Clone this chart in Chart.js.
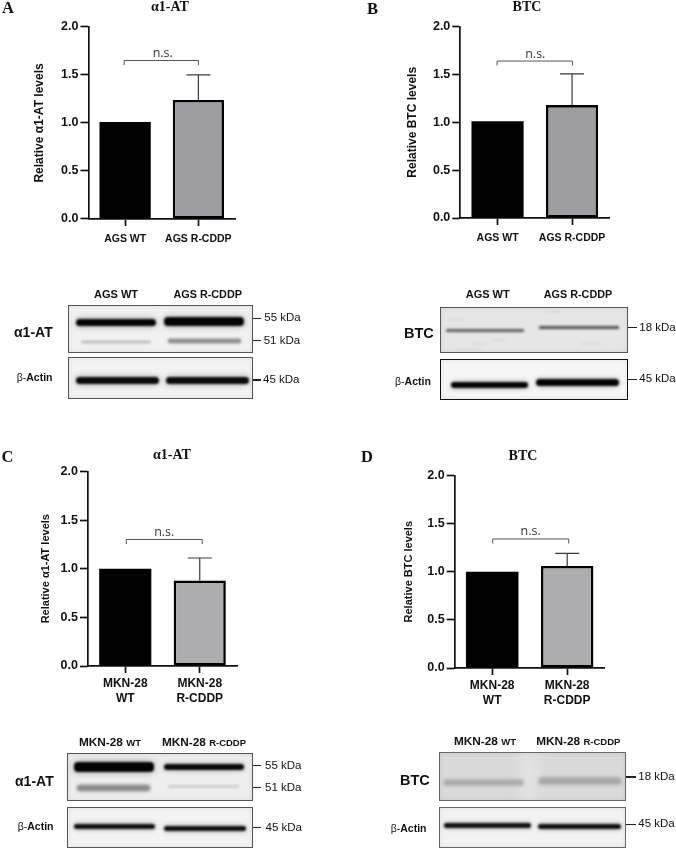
<!DOCTYPE html>
<html>
<head>
<meta charset="utf-8">
<title>α1-AT and BTC levels</title>
<script src="https://cdn.jsdelivr.net/npm/chart.js@4"></script>
<style>
  html, body { margin: 0; padding: 0; background: #fff; width: 676px; height: 849px; overflow: hidden; }
  #page { position: relative; width: 676px; height: 849px; }
  canvas { position: absolute; filter: blur(0.35px); }
  .txt { position: absolute; white-space: nowrap; line-height: 1; color: #111; transform: translateY(-50%); font-family: "Liberation Sans", sans-serif; filter: blur(0.25px); }
  .frame { position: absolute; box-sizing: border-box; overflow: hidden; box-shadow: inset 0 0 5px rgba(0,0,0,0.08); }
  .band { position: absolute; border-radius: 4px; }
  .mark { position: absolute; height: 1.4px; background: #222; }
</style>
</head>
<body>
<div id="page"></div>
<script>
// chart values
const catsAgs = ['AGS WT', 'AGS R-CDDP'];
const catsMkn = [['MKN-28', 'WT'], ['MKN-28', 'R-CDDP']];
const yTicks = [0, 0.5, 1, 1.5, 2];

const valuesA = [1.01, 1.24];
const errTopA = [null, 1.5];
const valuesB = [1.01, 1.18];
const errTopB = [null, 1.505];
const valuesC = [1.0, 0.88];
const errTopC = [null, 1.11];
const valuesD = [1.0, 1.06];
const errTopD = [null, 1.19];

// height of the n.s. brackets
const bracketA = 1.65;
const bracketB = 1.64;
const bracketC = 1.30;
const bracketD = 1.34;

const page = document.getElementById('page');

// error bars and brackets go through the chart scales
const extrasPlugin = {
  id: 'extras',
  afterLayout(chart, args, o) {
    // the right padding would pull the title off centre
    chart.titleBlock.left = o.titleCenter - 40;
    chart.titleBlock.right = o.titleCenter + 40;
  },
  afterDatasetsDraw(chart, args, o) {
    const { ctx } = chart;
    const x = chart.scales.x, y = chart.scales.y;
    ctx.save();
    o.errTop.forEach((top, i) => {
      if (top == null) return;
      const px = x.getPixelForValue(i);
      const y1 = y.getPixelForValue(chart.data.datasets[0].data[i]);
      const y2 = y.getPixelForValue(top);
      ctx.strokeStyle = '#3a3a3a';
      ctx.lineWidth = 1.2;
      ctx.beginPath();
      ctx.moveTo(px, y1);
      ctx.lineTo(px, y2);
      ctx.moveTo(px - 12, y2);
      ctx.lineTo(px + 12, y2);
      ctx.stroke();
    });
    const bx1 = x.getPixelForValue(0) + o.bracketShift[0];
    const bx2 = x.getPixelForValue(1) + o.bracketShift[1];
    const by = y.getPixelForValue(o.bracket);
    ctx.strokeStyle = '#555';
    ctx.lineWidth = 1;
    ctx.beginPath();
    ctx.moveTo(bx1, by + 4.5);
    ctx.lineTo(bx1, by);
    ctx.lineTo(bx2, by);
    ctx.lineTo(bx2, by + 4.5);
    ctx.stroke();
    ctx.fillStyle = '#333';
    ctx.font = '12.5px "Open Sans"';
    ctx.textAlign = 'center';
    ctx.textBaseline = 'alphabetic';
    ctx.fillText('n.s.', (bx1 + bx2) / 2 + o.nsShift, by - 3.5);
    ctx.restore();
  }
};

function makePanel(p) {
  const cv = document.createElement('canvas');
  const cTop = p.titleY - 8.4;
  const cLeft = p.titleX - p.cw / 2;
  const h = p.y0 - cTop + 44;
  cv.width = p.cw;
  cv.height = Math.round(h);
  cv.style.left = cLeft + 'px';
  cv.style.top = cTop + 'px';
  page.appendChild(cv);

  new Chart(cv.getContext('2d'), {
    type: 'bar',
    plugins: [extrasPlugin],
    data: {
      labels: p.labels,
      datasets: [{
        data: p.values,
        backgroundColor: ['#000000', p.gray],
        borderColor: '#000000',
        borderWidth: [0, 2.6],
        borderSkipped: false,
        barPercentage: 0.7,
        categoryPercentage: 1
      }]
    },
    options: {
      responsive: false,
      animation: false,
      devicePixelRatio: 1,
      layout: { padding: { top: 0, left: 0, bottom: 0, right: cLeft + p.cw - p.right } },
      plugins: {
        legend: { display: false },
        tooltip: { enabled: false },
        title: {
          display: true,
          text: p.title,
          color: '#111',
          font: { family: '"Liberation Serif"', size: 14, weight: 'bold', lineHeight: 1.2 },
          padding: { top: 0, bottom: p.yTop - cTop - 16.8 }
        },
        extras: { titleCenter: p.cw / 2, errTop: p.errTop, bracket: p.bracket, bracketShift: p.bracketShift, nsShift: p.nsShift }
      },
      scales: {
        x: {
          grid: { display: true, offset: false, drawOnChartArea: false, drawTicks: true, tickLength: 7, tickColor: '#111', tickWidth: 1.7 },
          border: { color: '#111', width: 1.7 },
          ticks: {
            color: '#111',
            autoSkip: false,
            maxRotation: 0,
            padding: p.xPad,
            font: { family: '"Liberation Sans"', size: p.xSize, weight: 'bold', lineHeight: 1.3 }
          },
          afterFit(s) { s.height = h - (p.y0 - cTop); }
        },
        y: {
          min: 0,
          max: 2,
          afterBuildTicks(s) { s.ticks = yTicks.map(v => ({ value: v })); },
          grid: { display: true, drawOnChartArea: false, drawTicks: true, tickLength: 8, tickColor: '#111', tickWidth: 1.7 },
          border: { color: '#111', width: 1.7 },
          title: {
            display: true,
            text: p.yLabel,
            color: '#111',
            font: { family: '"Liberation Sans"', size: p.ySize, weight: 'bold', lineHeight: 1.2 },
            padding: { top: p.yLabelX - cLeft - p.ySize * 0.6, bottom: 0 }
          },
          ticks: {
            color: '#111',
            padding: 2,
            font: { family: '"Liberation Sans"', size: 12.5, weight: 'bold' },
            callback: v => v.toFixed(1)
          },
          afterFit(s) { s.width = p.axisX - cLeft; }
        }
      }
    }
  });
}

makePanel({ title: 'α1-AT', titleX: 170, titleY: 7.5, cw: 320, axisX: 88.5, yTop: 27, y0: 218.7, right: 235,
  labels: catsAgs, values: valuesA, errTop: errTopA, bracket: bracketA, bracketShift: [-1, 0], nsShift: 1.5,
  gray: '#9e9ea2', yLabel: 'Relative α1-AT levels', ySize: 12, yLabelX: 40, xSize: 10.5, xPad: 6 });
makePanel({ title: 'BTC', titleX: 526.7, titleY: 7.5, cw: 290, axisX: 460, yTop: 26.7, y0: 218, right: 609,
  labels: catsAgs, values: valuesB, errTop: errTopB, bracket: bracketB, bracketShift: [-0.5, 0.5], nsShift: 0.5,
  gray: '#9e9ea2', yLabel: 'Relative BTC levels', ySize: 12, yLabelX: 412, xSize: 10.5, xPad: 6 });
makePanel({ title: 'α1-AT', titleX: 171.7, titleY: 455.7, cw: 320, axisX: 87.7, yTop: 471.7, y0: 666.7, right: 236.7,
  labels: catsMkn, values: valuesC, errTop: errTopC, bracket: bracketC, bracketShift: [1, 2.5], nsShift: 0,
  gray: '#adadaf', yLabel: 'Relative α1-AT levels', ySize: 11, yLabelX: 46, xSize: 12, xPad: 2.5 });
makePanel({ title: 'BTC', titleX: 523.3, titleY: 456, cw: 290, axisX: 455, yTop: 475, y0: 667.3, right: 605,
  labels: catsMkn, values: valuesD, errTop: errTopD, bracket: bracketD, bracketShift: [0.5, 1.5], nsShift: 0,
  gray: '#adadaf', yLabel: 'Relative BTC levels', ySize: 11, yLabelX: 409, xSize: 12, xPad: 2.5 });

// plain page text
function text(str, x, y, size, opt = {}) {
  const d = document.createElement('div');
  d.className = 'txt';
  d.innerHTML = str;
  d.style.top = y + 'px';
  d.style.fontSize = size + 'px';
  if (opt.center) { d.style.left = x + 'px'; d.style.transform = 'translate(-50%,-50%)'; }
  else d.style.left = x + 'px';
  if (opt.bold) d.style.fontWeight = 'bold';
  if (opt.serif) d.style.fontFamily = '"Liberation Serif", serif';
  page.appendChild(d);
}

// panel letters
[['A', 2, 8], ['B', 367, 9], ['C', 1.5, 457], ['D', 361, 457]].forEach(l => {
  text(l[0], l[1], l[2], 16.5, { bold: true, serif: true });
});

// western blot strip: bands are [x1, x2, y, thickness, colour, blur, halo]
function blot(x1, y1, x2, y2, bg, border, bands) {
  const f = document.createElement('div');
  f.className = 'frame';
  f.style.cssText = `left:${x1}px;top:${y1}px;width:${x2 - x1}px;height:${y2 - y1}px;background:${bg};border:${border}`;
  bands.forEach(b => {
    const d = document.createElement('div');
    d.className = 'band';
    const halo = b[6] ? `box-shadow:0 0 ${b[6]}px rgba(0,0,0,0.4);` : '';
    d.style.cssText = `left:${b[0] - x1}px;top:${b[2] - y1 - b[3] / 2}px;width:${b[1] - b[0]}px;height:${b[3]}px;background:${b[4]};filter:blur(${b[5]}px);${halo}`;
    f.appendChild(d);
  });
  page.appendChild(f);
}

function kda(label, x1, x2, y, textX) {
  const m = document.createElement('div');
  m.className = 'mark';
  m.style.left = x1 + 'px';
  m.style.top = (y - 0.7) + 'px';
  m.style.width = (x2 - x1) + 'px';
  page.appendChild(m);
  text(label, textX, y, 11.5);
}

const mkn = (s) => `MKN-28 <span style="font-size:9.5px">${s}</span>`;

// A
text('AGS WT', 116, 294, 11, { bold: true, center: true });
text('AGS R-CDDP', 207.7, 294, 10.8, { bold: true, center: true });
blot(68.3, 305, 253.3, 353.3, '#f1f1f1', '1.3px solid #555', [
  [75, 155, 321.7, 7.5, '#050505', 1, 6], [162.7, 243, 320, 9, '#050505', 1, 6],
  [80, 150, 341, 3.5, '#cacaca', 1.3], [166.7, 240, 340.3, 4, '#909090', 1.2, 3]
]);
blot(68.3, 357.3, 253.3, 399.3, '#f3f3f3', '1.3px solid #555', [
  [75, 158, 380, 7, '#0a0a0a', 1, 6], [165, 248, 380, 7, '#0a0a0a', 1, 6]
]);
text('α1-AT', 14, 331.7, 14, { bold: true });
text('β-<b>Actin</b>', 16.7, 377, 10.5);
kda('55 kDa', 253.3, 260.7, 318.3, 264.3);
kda('51 kDa', 253.3, 260.7, 340.7, 263.7);
kda('45 kDa', 253.3, 260.7, 380, 263);

// B
text('AGS WT', 487.7, 294, 11, { bold: true, center: true });
text('AGS R-CDDP', 578, 294, 10.8, { bold: true, center: true });
blot(440, 307.3, 627.7, 353.3, '#e6e6e6', '1.3px solid #555', [
  [445, 523.3, 329.3, 2.6, '#707070', 0.8, 2], [538, 618, 326.7, 3.6, '#606060', 0.8, 2],
  [448, 462, 319, 1.5, '#dadada', 1], [490, 505, 339, 1.5, '#dcdcdc', 1],
  [545, 560, 311, 1.5, '#dadada', 1], [580, 600, 343, 1.5, '#dcdcdc', 1],
  [455, 480, 349, 1.5, '#dadada', 1], [470, 485, 343, 1.2, '#dcdcdc', 1]
]);
blot(439.7, 358.7, 628, 400, '#f6f6f6', '1.8px solid #111', [
  [450, 526.7, 384, 5.5, '#050505', 1, 5], [535, 618, 381.7, 7, '#050505', 1, 5]
]);
text('BTC', 404, 332.7, 14.5, { bold: true });
text('β-<b>Actin</b>', 395, 380.7, 10.5);
kda('18 kDa', 627.7, 636.7, 327.7, 639.3);
kda('45 kDa', 627.7, 636.7, 379.3, 639.3);

// C
text(mkn('WT'), 110, 743, 11.8, { bold: true, center: true });
text(mkn('R-CDDP'), 204, 743, 11.8, { bold: true, center: true });
blot(66.7, 753.3, 252.7, 800.7, '#eeeeee', '1.3px solid #555', [
  [73, 153, 765.7, 10, '#030303', 1.2, 7], [162.7, 243, 766, 6.5, '#0a0a0a', 1, 5],
  [76, 149, 786.7, 6, '#8a8a8a', 1.5, 3], [166.7, 238, 786, 3, '#d0d0d0', 1.3]
]);
blot(66.7, 806.7, 252.7, 847.7, '#f3f3f3', '1.3px solid #555', [
  [72.7, 154, 825.7, 5, '#111', 1, 5], [163, 245, 827.7, 5, '#111', 1, 5]
]);
text('α1-AT', 15, 781, 14, { bold: true });
text('β-<b>Actin</b>', 17.7, 826, 10.5);
kda('55 kDa', 252.7, 260.7, 765.7, 265);
kda('51 kDa', 252.7, 260.7, 787.7, 265);
kda('45 kDa', 252.7, 260.7, 827.7, 265.5);

// D
text(mkn('WT'), 485, 742, 11.8, { bold: true, center: true });
text(mkn('R-CDDP'), 578.3, 742, 11.8, { bold: true, center: true });
blot(439.3, 752.3, 625.7, 800.7, '#dadada', '1.3px solid #666', [
  [518, 538, 776, 46, '#e2e2e2', 6],
  [443, 521.7, 781.7, 5.5, '#ababab', 1.6, 3], [538, 620, 780, 5.5, '#a8a8a8', 1.6, 3]
]);
blot(439.3, 806.7, 625.7, 848.3, '#f2f2f2', '1.3px solid #666', [
  [443, 530, 824.3, 4.5, '#111', 1, 4], [536.7, 620, 826, 5, '#111', 1, 4]
]);
text('BTC', 400, 780, 14.5, { bold: true });
text('β-<b>Actin</b>', 390.7, 828, 10.5);
kda('18 kDa', 625.7, 636, 777, 638.3);
kda('45 kDa', 625.7, 636, 824.3, 638.3);
</script>
</body>
</html>
